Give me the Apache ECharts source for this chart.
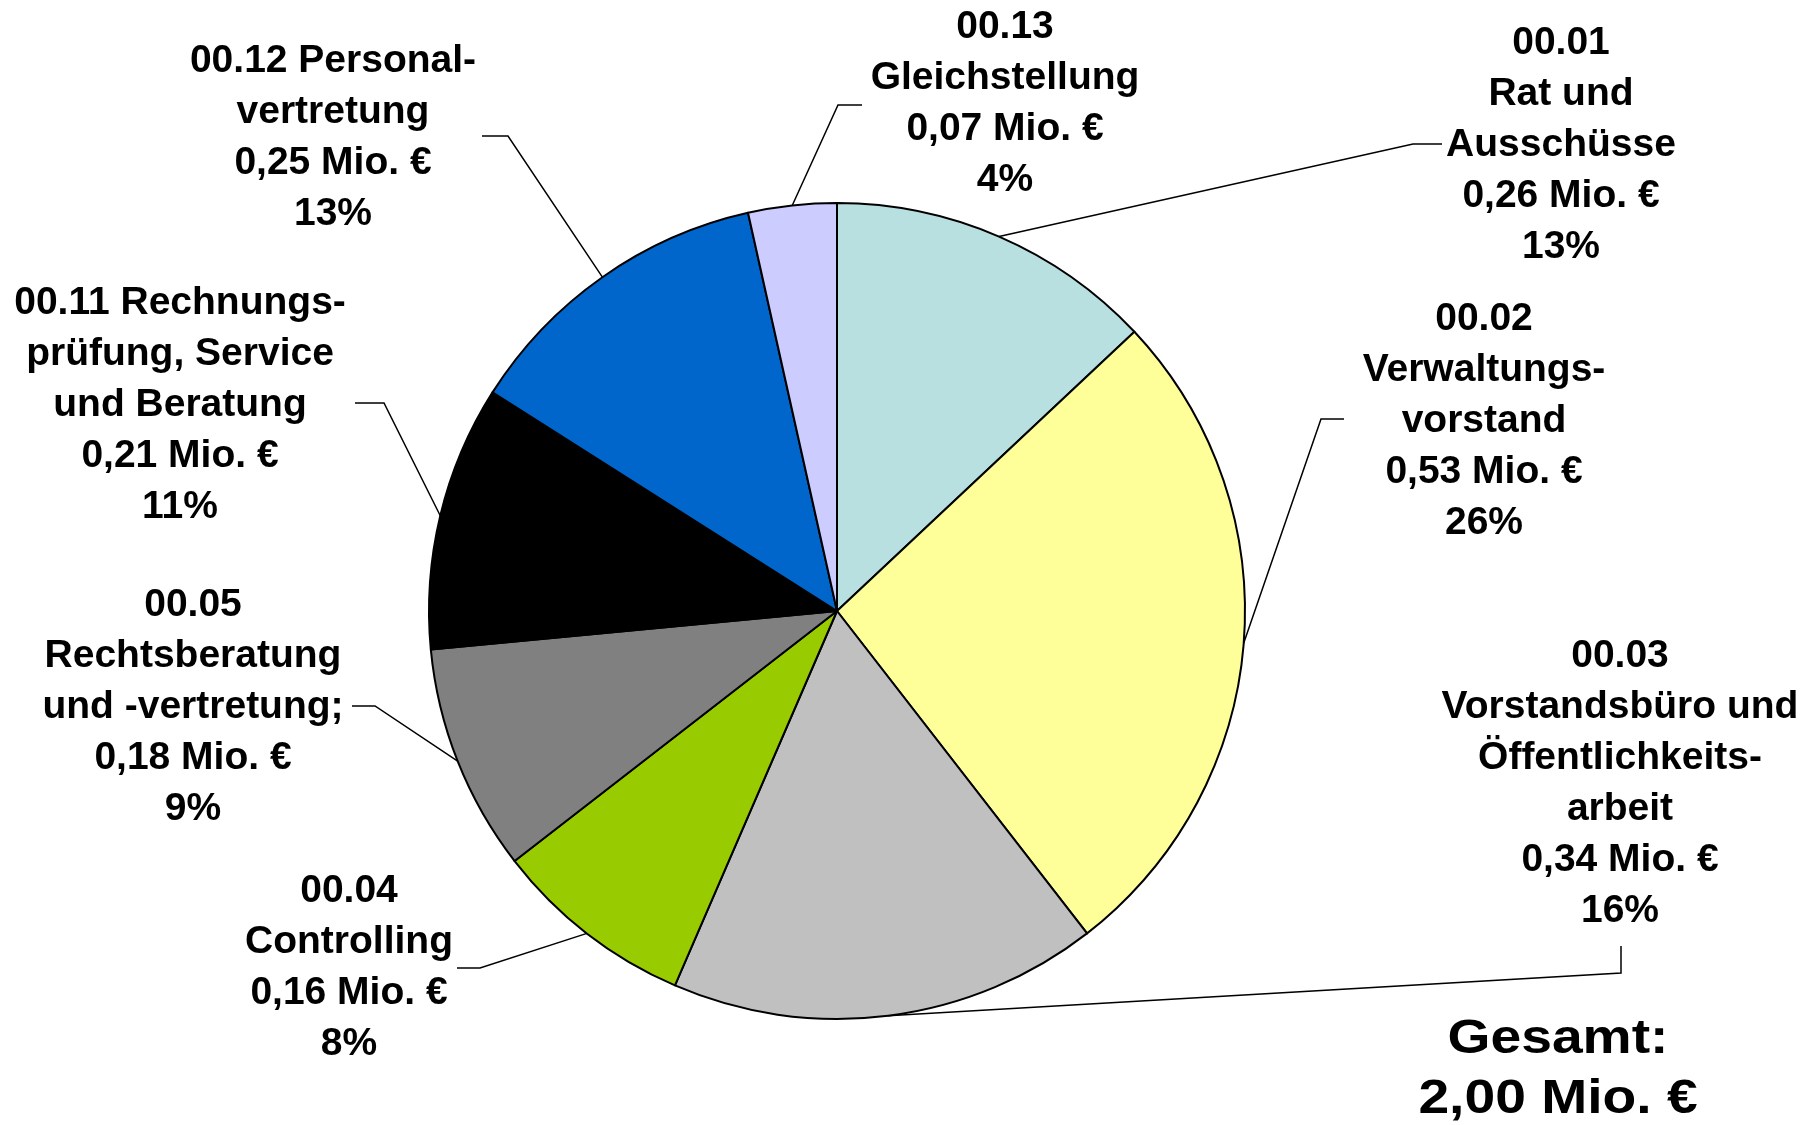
<!DOCTYPE html>
<html>
<head>
<meta charset="utf-8">
<script src="https://cdn.jsdelivr.net/npm/echarts@6/dist/echarts.min.js"></script>
<style>
  html, body { margin: 0; padding: 0; background: #fff; }
  #chart { width: 1809px; height: 1125px; }
</style>
</head>
<body>
<div id="chart"></div>
<script>
// Haushalt 00.xx, Werte in Mio. €
var categories = [
    '00.01\nRat und\nAusschüsse',
    '00.02\nVerwaltungs-\nvorstand',
    '00.03\nVorstandsbüro und\nÖffentlichkeits-\narbeit',
    '00.04\nControlling',
    '00.05\nRechtsberatung\nund -vertretung;',
    '00.11 Rechnungs-\nprüfung, Service\nund Beratung',
    '00.12 Personal-\nvertretung',
    '00.13\nGleichstellung'
];
var values = [0.26, 0.53, 0.34, 0.16, 0.18, 0.21, 0.25, 0.07];
var percents = [13, 26, 16, 8, 9, 11, 13, 4];
var colors = ['#B8E0E0', '#FFFF99', '#C0C0C0', '#99CC00', '#808080', '#000000', '#0066CC', '#CCCCFF'];

// label placement: text centre, elbow of the leader line, end of the leader line
var labelPos = [
    { x: 1561, y: 145, elbow: [1413, 144], end: [1442, 144] },
    { x: 1484, y: 421, elbow: [1321, 419], end: [1344, 419] },
    { x: 1620, y: 784, elbow: [1621, 973], end: [1621, 946] },
    { x: 349, y: 968, elbow: [480, 968], end: [457, 968] },
    { x: 193, y: 707, elbow: [375, 706], end: [352, 706] },
    { x: 180, y: 405, elbow: [384, 403], end: [355, 403] },
    { x: 333, y: 138, elbow: [508, 136], end: [482, 136] },
    { x: 1005, y: 104, elbow: [838, 105], end: [862, 105] }
];

function fmt(v) {
    return v.toFixed(2).replace('.', ',') + ' Mio. €';
}

var total = values.reduce(function (a, b) { return a + b; }, 0);

var chart = echarts.init(document.getElementById('chart'));
chart.setOption({
    backgroundColor: '#ffffff',
    animation: false,
    series: [{
        type: 'pie',
        center: [837, 611],
        radius: 408,
        startAngle: 90,
        clockwise: true,
        avoidLabelOverlap: false,
        data: categories.map(function (c, i) {
            return { name: c, value: values[i], itemStyle: { color: colors[i] } };
        }),
        itemStyle: { borderColor: '#000', borderWidth: 2 },
        label: {
            show: true,
            position: 'outside',
            fontFamily: '"Liberation Sans", Arial, sans-serif',
            fontWeight: 'bold',
            fontSize: 39,
            lineHeight: 51,
            color: '#000',
            formatter: function (p) {
                return p.name + '\n' + fmt(p.value) + '\n' + percents[p.dataIndex] + '%';
            }
        },
        labelLine: {
            show: true,
            lineStyle: { color: '#000', width: 1.5 }
        },
        labelLayout: function (params) {
            var p = labelPos[params.dataIndex];
            var start = params.labelLinePoints[0];
            return {
                x: p.x,
                y: p.y,
                align: 'center',
                verticalAlign: 'middle',
                labelLinePoints: [start, p.elbow, p.end]
            };
        },
        emphasis: { disabled: true }
    }],
    graphic: [{
        type: 'text',
        x: 1558,
        y: 1070,
        scaleX: 1.15,
        style: {
            text: 'Gesamt:\n' + fmt(total),
            fill: '#000',
            font: 'bold 48px "Liberation Sans", Arial, sans-serif',
            lineHeight: 60,
            textAlign: 'center',
            textVerticalAlign: 'middle'
        }
    }]
});
</script>
</body>
</html>
